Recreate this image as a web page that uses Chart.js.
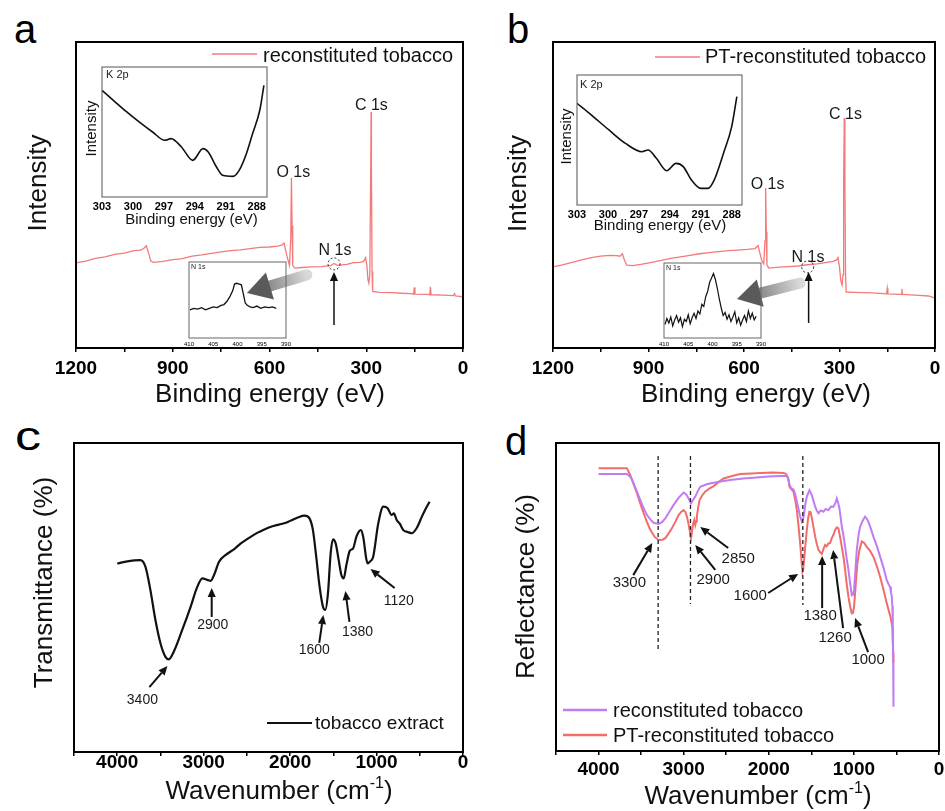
<!DOCTYPE html>
<html><head><meta charset="utf-8">
<script src="https://cdn.jsdelivr.net/npm/chart.js@4.4.1/dist/chart.umd.min.js"></script>
<style>
html,body{margin:0;padding:0;background:#fff}
body{width:945px;height:811px;position:relative;overflow:hidden;font-family:"Liberation Sans",Arial,sans-serif}
canvas{position:absolute}
.let{position:absolute;font-size:40px;line-height:40px;color:#000;font-family:"Liberation Sans",Arial,sans-serif}
</style></head>
<body>
<div class="let" style="left:14px;top:9px">a</div>
<div class="let" style="left:507px;top:9px">b</div>
<div class="let" style="left:15px;top:416px;transform-origin:0 0;transform:scaleX(1.3)">c</div>
<div class="let" style="left:505px;top:421px">d</div>
<script>
const FONT = '"Liberation Sans", Arial, Helvetica, sans-serif';

// ---------------- tick labels ----------------
const xpsTicks = [1200, 900, 600, 300, 0];
const xpsMinorTicks = [1050, 750, 450, 150];
const irTicks = [4000, 3000, 2000, 1000, 0];
const irMinorTicks = [4500, 3500, 2500, 1500, 500];
const k2pTicks = [303, 300, 297, 294, 291, 288];
const n1sTicks = [410, 405, 400, 395, 390];

// ---------------- panel a: XPS survey, reconstituted tobacco ----------------
const surveyA_BE = [1200,1170,1140,1110,1080,1050,1020,1000,990,982,975,968,960,930,900,870,840,810,780,750,720,690,660,630,600,575,562,555,548,542,538,534,532,530,528,522,500,470,440,410,400,390,360,340,320,308,302,298,295,292,289,286,285,284,282,280,260,220,190,160,153,151,149,110,103,101,99,60,30,26,24,10,0];
const surveyA_I  = [27.8,28.4,29.3,29.8,30.6,31.0,31.8,32.0,32.5,33.4,31.0,28.4,28.0,28.3,28.9,29.2,30.0,30.4,30.9,31.4,31.8,32.1,32.5,32.9,33.0,33.3,33.6,34.3,31.0,28.5,27.0,36.0,55.6,40.0,27.0,26.1,26.3,26.5,26.6,26.9,27.6,27.0,27.3,27.9,28.0,28.3,29.5,27.0,22.5,21.2,24.0,60.0,77.1,60.0,25.0,18.5,18.2,18.1,17.9,17.8,17.6,19.8,17.6,17.5,17.4,20.0,17.4,17.3,17.1,17.8,17.0,16.9,16.5];

// ---------------- panel b: XPS survey, PT-reconstituted tobacco ----------------
const surveyB_BE = [1200,1170,1140,1110,1080,1050,1020,1000,990,982,975,968,950,920,890,860,830,800,770,740,710,680,650,620,590,565,556,550,544,538,534,532,530,528,522,490,460,430,400,370,340,320,309,305,300,296,292,289,287,285,283,281,279,250,200,160,152,150,148,106,104,102,50,20,0];
const surveyB_I  = [26.5,27.2,28.0,28.8,29.5,30.0,30.3,30.2,30.0,30.8,28.5,27.1,26.9,27.4,28.0,28.6,29.3,29.8,30.3,30.8,31.2,31.5,31.8,32.0,32.2,32.5,33.5,31.0,28.5,27.5,35.0,52.3,38.0,27.2,26.1,26.4,26.6,26.8,27.2,27.5,28.0,28.3,28.8,29.6,26.5,22.0,20.6,24.0,55.0,75.2,55.0,24.0,18.3,18.2,18.0,17.8,17.7,19.5,17.7,17.5,19.3,17.5,17.2,17.0,16.3];

// ---------------- insets: K 2p ----------------
const k2pA_BE = [303,301.9,300.6,299.4,298.1,296.9,296.3,295.3,294.2,293.2,292.7,291.9,291.3,290.3,289.7,289.0,288.4,287.7,287.3];
const k2pA_I  = [82,74.4,65.4,57.7,50,43.6,44.9,38.5,28.2,37.2,34.6,23.1,16.7,15.9,20.5,33.3,48.7,66.7,85.9];
const k2pB_BE = [303,301.8,299.9,298.3,296.7,296.1,295.3,294.3,293.4,292.7,291.9,291.0,290.3,289.7,288.8,288.0,287.5];
const k2pB_I  = [78.2,70.5,57.7,47.4,41,42.3,35.9,26.4,32,29.5,19.2,12.8,12.8,19.2,39.7,60.3,83.3];

// ---------------- insets: N 1s ----------------
const n1sA_BE = [409.8,409,408.2,407.4,406.6,405.8,405,404.2,403.4,402.8,402.2,401.6,401,400.6,400.2,399.6,399.2,398.8,398.4,398,397.4,396.8,396,395.2,394.4,393.6,392.8,392];
const n1sA_I  = [37,39,38,40,37,39,41,40,43,44,48,54,62,71,72,71,70,58,46,43,41,40,42,39,41,40,41,39];
const n1sB_BE = [409.8,409.4,409,408.6,408.2,407.8,407.4,407,406.6,406.2,405.8,405.4,405,404.6,404.2,403.8,403.4,403,402.6,402.2,401.8,401.4,401,400.6,400.2,399.8,399.4,399,398.6,398.2,397.8,397.4,397,396.6,396.2,395.8,395.4,395,394.6,394.2,393.8,393.4,393,392.6,392.2,391.8,391.4,391];
const n1sB_I  = [18,26,20,28,16,24,30,21,27,15,25,22,31,19,27,33,26,36,32,45,42,55,62,74,80,86,78,66,52,40,30,34,25,31,22,28,35,20,27,17,24,30,22,36,26,33,24,29];

// ---------------- panel c: FTIR tobacco extract ----------------
const extractWN = [4000,3900,3800,3733,3674,3616,3558,3500,3442,3403,3345,3248,3151,3073,3015,2957,2919,2880,2822,2744,2650,2570,2470,2376,2300,2221,2130,2047,1970,1911,1834,1776,1736,1698,1659,1620,1593,1562,1531,1504,1473,1438,1407,1380,1349,1310,1271,1233,1182,1155,1116,1100,1078,1039,980,922,872,826,800,767,730,690,640,593,535,477,430,387];
const extractT  = [61,61.6,62,62.1,60,52.4,42.7,35.2,30.8,30,32.5,39.5,47,53.5,56.2,55.7,55.4,57.3,61.6,63.8,65.6,67.5,69.4,71,72,72.9,73.6,74.2,75.2,75.9,76.5,75.6,71.8,63.2,53.5,47,46,51.4,64.3,68.8,67.5,62.1,57.3,56.2,60.5,65.1,65.9,69.7,71.8,69.7,62.1,61.0,61.6,63.2,74,79.4,78.9,76.7,77.2,75.1,73.8,71.8,71.2,70.8,72.5,76.1,78.8,81];

// ---------------- panel d: reflectance ----------------
const reconWN = [4000,3800,3666,3620,3588,3550,3510,3470,3431,3390,3353,3294,3255,3216,3170,3118,3060,3001,2970,2942,2914,2890,2864,2835,2805,2730,2649,2550,2453,2300,2179,2000,1866,1788,1770,1757,1737,1710,1690,1670,1650,1631,1611,1598,1585,1570,1553,1522,1495,1475,1455,1435,1416,1390,1358,1330,1299,1270,1240,1220,1201,1185,1170,1155,1142,1120,1103,1085,1064,1045,1025,1010,998,985,966,945,927,900,869,850,829,800,771,730,692,650,614,590,575,565,555,548,543,538,535];
const reconR  = [89.9,89.9,89.9,88.8,86.9,84.3,81.5,78.8,76.6,75.1,74.1,73.7,74.3,75.5,77.6,79.9,82.2,83.9,83.3,82,80.4,81.5,82.6,84.3,85.8,86.6,87.1,87.6,88,88.5,88.7,89.1,89.3,89.3,88.5,86.5,85.3,84.9,83.4,80.9,78.5,76.1,74.4,75.2,77.2,80.2,82.6,84.7,83.1,81.2,79.3,78,77.2,78.1,77.7,78.6,78.2,79.4,79.3,80.3,82,80.5,78.8,75.8,72.8,69.5,66.3,62.5,58.8,54.6,50.6,50.8,52.3,57.5,65.3,70.2,72.8,74.6,76.1,75.5,74.4,72.1,69.6,66.5,63.1,59.3,55.5,54,53.3,51.6,50.1,47,41.4,28,14.4];
const ptWN = [4000,3800,3666,3627,3590,3549,3510,3470,3430,3392,3340,3294,3250,3216,3180,3138,3100,3059,3030,3001,2980,2962,2945,2931,2914,2905,2895,2885,2875,2864,2855,2845,2830,2813,2780,2747,2700,2649,2590,2531,2430,2336,2200,2101,1950,1827,1800,1780,1765,1757,1735,1710,1690,1670,1650,1631,1615,1604,1595,1585,1570,1553,1538,1522,1510,1497,1480,1455,1435,1416,1395,1377,1357,1338,1320,1299,1280,1260,1240,1221,1200,1182,1162,1142,1120,1103,1085,1064,1045,1025,1010,998,980,959,935,908,880,849,810,771,730,692,650,614,590,570,555,548,543,538,535];
const ptR  = [91.8,91.8,91.8,89.6,86.8,83.7,80.4,77.2,74.2,71.8,69.5,68.5,68.6,69.1,70.5,72.3,74.3,76.6,77.6,78.2,77.6,76.1,74,71.8,69.1,70.6,72.8,74.2,75,73.4,74.5,76.1,79,81.5,83.1,84.2,85.2,86,87.3,88.5,89.3,89.9,90.1,90.3,90.4,90.3,90,89.1,87.5,85.8,85,84.2,81.6,78.2,72.9,67.4,61.5,58.2,59,62,66.8,71.8,75.5,77.7,77.6,76.1,73.5,69.6,67.1,65.3,64.5,64,65.6,66.9,66.4,67.4,67.5,69.1,70.2,71.8,72.6,72.3,69.5,66.3,62.6,58.8,54.3,50.1,47,44.7,44.9,46.8,53.5,60.9,65.3,68,67.6,66.3,65,63.1,60,56.6,52.1,48,45.5,43.5,41.4,40,35,32,28.5];

const RED = '#f47a7a', RED_D = '#f26c6c', PURPLE = '#c07cf2';
const pts = (xs, ys) => xs.map((x, i) => ({x, y: ys[i]}));

// ---------------- annotation / frame plugin ----------------
const ANN = {};
function drawArrow(ctx, x1, y1, x2, y2, lw, head, color) {
  const ang = Math.atan2(y2 - y1, x2 - x1);
  const bx = x2 - head * Math.cos(ang), by = y2 - head * Math.sin(ang);
  ctx.strokeStyle = color; ctx.fillStyle = color; ctx.lineWidth = lw;
  ctx.beginPath(); ctx.moveTo(x1, y1); ctx.lineTo(bx, by); ctx.stroke();
  const hw = head * 0.45;
  ctx.beginPath();
  ctx.moveTo(x2, y2);
  ctx.lineTo(bx + hw * Math.sin(ang), by - hw * Math.cos(ang));
  ctx.lineTo(bx - hw * Math.sin(ang), by + hw * Math.cos(ang));
  ctx.closePath(); ctx.fill();
}
const annoPlugin = {
  id: 'annoFrame',
  afterDraw(chart) {
    const a = ANN[chart.canvas.id]; if (!a) return;
    const ctx = chart.ctx, ca = chart.chartArea;
    const sx = chart.scales.x, sy = chart.scales.y;
    const px = v => sx.getPixelForValue(v), py = v => sy.getPixelForValue(v);
    const cx = (ca.left + ca.right) / 2, cy = (ca.top + ca.bottom) / 2;
    ctx.save();
    for (const it of a.items || []) {
      ctx.save();
      if (it.t === 'text') {
        ctx.font = (it.weight || 'normal') + ' ' + it.size + 'px ' + FONT;
        ctx.fillStyle = it.color || '#1a1a1a';
        ctx.textAlign = it.align || 'center';
        ctx.textBaseline = it.base || 'alphabetic';
        ctx.fillText(it.text, px(it.x), py(it.y));
      } else if (it.t === 'ptext') {
        ctx.font = it.size + 'px ' + FONT; ctx.fillStyle = '#222';
        ctx.textAlign = 'left'; ctx.textBaseline = 'alphabetic';
        ctx.fillText(it.text, ca.left + it.dx, ca.top + it.dy);
      } else if (it.t === 'arrow') {
        drawArrow(ctx, px(it.x1), py(it.y1), px(it.x2), py(it.y2), it.w || 2, it.head || 9, it.color || '#111');
      } else if (it.t === 'dashv') {
        ctx.strokeStyle = '#222'; ctx.lineWidth = 1.3; ctx.setLineDash([4, 3]);
        ctx.beginPath(); ctx.moveTo(px(it.x), py(it.y1)); ctx.lineTo(px(it.x), py(it.y2)); ctx.stroke();
      } else if (it.t === 'circle') {
        ctx.strokeStyle = '#222'; ctx.lineWidth = 1; ctx.setLineDash([2, 2]);
        ctx.beginPath(); ctx.arc(px(it.x), py(it.y), it.r, 0, Math.PI * 2); ctx.stroke();
      } else if (it.t === 'gray') {
        const x1 = px(it.x1), y1 = py(it.y1), x2 = px(it.x2), y2 = py(it.y2);
        const ang = Math.atan2(y2 - y1, x2 - x1), head = 24, hw = 14;
        const bx = x2 - head * Math.cos(ang), by = y2 - head * Math.sin(ang);
        const g = ctx.createLinearGradient(x1, y1, x2, y2);
        g.addColorStop(0, '#d9d9d9'); g.addColorStop(1, '#5c5c5c');
        ctx.strokeStyle = g; ctx.lineWidth = 11; ctx.lineCap = 'round';
        ctx.beginPath(); ctx.moveTo(x1, y1); ctx.lineTo(bx, by); ctx.stroke();
        ctx.fillStyle = '#5a5a5a';
        ctx.beginPath(); ctx.moveTo(x2, y2);
        ctx.lineTo(bx + hw * Math.sin(ang), by - hw * Math.cos(ang));
        ctx.lineTo(bx - hw * Math.sin(ang), by + hw * Math.cos(ang));
        ctx.closePath(); ctx.fill();
      } else if (it.t === 'legend') {
        ctx.strokeStyle = it.color; ctx.lineWidth = it.lw;
        ctx.beginPath(); ctx.moveTo(ca.left + it.dx1, ca.top + it.dy); ctx.lineTo(ca.left + it.dx2, ca.top + it.dy); ctx.stroke();
        ctx.font = it.size + 'px ' + FONT; ctx.fillStyle = '#111';
        ctx.textAlign = 'left'; ctx.textBaseline = 'alphabetic';
        ctx.fillText(it.text, ca.left + it.tdx, ca.top + it.tdy);
      } else if (it.t === 'xtitle') {
        ctx.fillStyle = '#111'; ctx.textBaseline = 'alphabetic'; ctx.textAlign = 'left';
        const supSize = Math.round(it.size * 0.6);
        let total = 0;
        for (const [s, sup] of it.parts) { ctx.font = (sup ? supSize : it.size) + 'px ' + FONT; total += ctx.measureText(s).width; }
        let x = cx + it.dx - total / 2; const y = ca.bottom + it.dy;
        for (const [s, sup] of it.parts) {
          ctx.font = (sup ? supSize : it.size) + 'px ' + FONT;
          ctx.fillText(s, x, sup ? y - it.size * 0.42 : y);
          x += ctx.measureText(s).width;
        }
      } else if (it.t === 'ytitle') {
        ctx.fillStyle = '#111'; ctx.font = it.size + 'px ' + FONT;
        ctx.textAlign = 'center'; ctx.textBaseline = 'alphabetic';
        ctx.translate(ca.left + it.dx, cy + it.dy); ctx.rotate(-Math.PI / 2);
        ctx.fillText(it.text, 0, 0);
      }
      ctx.restore();
    }
    ctx.strokeStyle = a.frameColor || '#000'; ctx.lineWidth = a.frameWidth || 2;
    ctx.strokeRect(ca.left, ca.top, ca.right - ca.left, ca.bottom - ca.top);
    ctx.restore();
  }
};
Chart.register(annoPlugin);

function makeChart(id, left, top, w, h, area, spec) {
  const cv = document.createElement('canvas');
  cv.id = id; cv.width = w; cv.height = h;
  cv.style.left = left + 'px'; cv.style.top = top + 'px';
  cv.style.width = w + 'px'; cv.style.height = h + 'px';
  document.body.appendChild(cv);
  ANN[id] = spec.anno;
  const major = spec.major, minor = spec.minor || [];
  const all = major.concat(minor).sort((p, q) => p - q);
  return new Chart(cv, {
    type: 'line',
    data: { datasets: spec.datasets.map(d => Object.assign({
      pointRadius: 0, fill: false, borderWidth: 1.5, tension: 0, spanGaps: true
    }, d)) },
    options: {
      responsive: false, animation: false, devicePixelRatio: 1,
      layout: { padding: { left: area.l - left, top: area.t - top, right: left + w - area.r, bottom: 0 } },
      plugins: { legend: { display: false }, tooltip: { enabled: false } },
      scales: {
        x: {
          type: 'linear', reverse: true, min: spec.xmin, max: spec.xmax,
          afterBuildTicks: s => { s.ticks = all.map(v => ({ value: v })); },
          afterFit: s => { s.height = top + h - area.b; },
          ticks: {
            autoSkip: false, maxRotation: 0, minRotation: 0, padding: spec.tickPad, color: '#000',
            font: { family: FONT, size: spec.tickSize, weight: spec.tickBold ? 'bold' : 'normal', lineHeight: 1 },
            callback: v => major.includes(v) ? String(v) : ''
          },
          grid: { display: true, drawOnChartArea: false, drawTicks: spec.tickLen > 0, tickLength: spec.tickLen || 0,
                  color: '#000', tickColor: '#000', lineWidth: 1.5 },
          border: { display: false },
          title: { display: false }
        },
        y: { type: 'linear', display: false, min: 0, max: 100 }
      }
    }
  });
}

// ---------------- panel a ----------------
makeChart('chartA', 0, 0, 470, 410, { l: 76, t: 42, r: 463, b: 348 }, {
  xmin: 0, xmax: 1200, major: xpsTicks, minor: xpsMinorTicks, tickPad: 7, tickSize: 19, tickBold: true, tickLen: 4,
  datasets: [{ label: 'reconstituted tobacco', data: pts(surveyA_BE, surveyA_I), borderColor: RED, borderWidth: 1.3 }],
  anno: { items: [
    { t: 'legend', dx1: 136, dx2: 181, dy: 12, tdx: 187, tdy: 20, text: 'reconstituted tobacco', color: RED, lw: 1.5, size: 20 },
    { t: 'text', x: 526, y: 55.8, text: 'O 1s', size: 16 },
    { t: 'text', x: 284, y: 77.8, text: 'C 1s', size: 16 },
    { t: 'text', x: 397, y: 30.4, text: 'N 1s', size: 16 },
    { t: 'circle', x: 400, y: 27.5, r: 6 },
    { t: 'arrow', x1: 400, y1: 7.5, x2: 400, y2: 24.8, w: 1.5, head: 9 },
    { t: 'gray', x1: 484, y1: 23.9, x2: 670, y2: 18 },
    { t: 'xtitle', parts: [['Binding energy (eV)', false]], dx: 0.5, dy: 53.7, size: 26 },
    { t: 'ytitle', text: 'Intensity', dx: -30.4, dy: -12, size: 26 }
  ] }
});
// inset K 2p (a)
makeChart('insetKA', 78, 58, 194, 178, { l: 102, t: 67, r: 267, b: 197 }, {
  xmin: 287, xmax: 303, major: k2pTicks, tickPad: 4, tickSize: 11, tickBold: true, tickLen: 0,
  datasets: [{ data: pts(k2pA_BE, k2pA_I), borderColor: '#111', borderWidth: 1.6, cubicInterpolationMode: 'monotone' }],
  anno: { frameColor: '#555', frameWidth: 1, items: [
    { t: 'ptext', dx: 4, dy: 11, text: 'K 2p', size: 11 },
    { t: 'xtitle', parts: [['Binding energy (eV)', false]], dx: 7, dy: 27, size: 15 },
    { t: 'ytitle', text: 'Intensity', dx: -6.5, dy: -3.5, size: 15 }
  ] }
});
// inset N 1s (a)
makeChart('insetNA', 183, 256, 109, 95, { l: 189, t: 262, r: 286, b: 338 }, {
  xmin: 390, xmax: 410, major: n1sTicks, tickPad: 3, tickSize: 6, tickBold: false, tickLen: 0,
  datasets: [{ data: pts(n1sA_BE, n1sA_I), borderColor: '#111', borderWidth: 1.3 }],
  anno: { frameColor: '#666', frameWidth: 1, items: [
    { t: 'ptext', dx: 2, dy: 7, text: 'N 1s', size: 7 }
  ] }
});

// ---------------- panel b ----------------
makeChart('chartB', 470, 0, 475, 410, { l: 553, t: 42, r: 935, b: 348 }, {
  xmin: 0, xmax: 1200, major: xpsTicks, minor: xpsMinorTicks, tickPad: 7, tickSize: 19, tickBold: true, tickLen: 4,
  datasets: [{ label: 'PT-reconstituted tobacco', data: pts(surveyB_BE, surveyB_I), borderColor: RED, borderWidth: 1.3 }],
  anno: { items: [
    { t: 'legend', dx1: 102, dx2: 147, dy: 15, tdx: 152, tdy: 21.3, text: 'PT-reconstituted tobacco', color: RED, lw: 1.5, size: 20 },
    { t: 'text', x: 526, y: 52, text: 'O 1s', size: 16 },
    { t: 'text', x: 281, y: 74.8, text: 'C 1s', size: 16 },
    { t: 'text', x: 399, y: 28.2, text: 'N 1s', size: 16 },
    { t: 'circle', x: 400, y: 26.5, r: 6 },
    { t: 'arrow', x1: 397, y1: 8.2, x2: 397, y2: 24.8, w: 1.5, head: 9 },
    { t: 'gray', x1: 424, y1: 21.2, x2: 622, y2: 16 },
    { t: 'xtitle', parts: [['Binding energy (eV)', false]], dx: 12, dy: 53.7, size: 26 },
    { t: 'ytitle', text: 'Intensity', dx: -27.4, dy: -11.5, size: 26 }
  ] }
});
// inset K 2p (b)
makeChart('insetKB', 555, 66, 192, 178, { l: 577, t: 75, r: 742, b: 205 }, {
  xmin: 287, xmax: 303, major: k2pTicks, tickPad: 4, tickSize: 11, tickBold: true, tickLen: 0,
  datasets: [{ data: pts(k2pB_BE, k2pB_I), borderColor: '#111', borderWidth: 1.6, cubicInterpolationMode: 'monotone' }],
  anno: { frameColor: '#555', frameWidth: 1, items: [
    { t: 'ptext', dx: 3, dy: 13, text: 'K 2p', size: 11 },
    { t: 'xtitle', parts: [['Binding energy (eV)', false]], dx: 0.5, dy: 24.5, size: 15 },
    { t: 'ytitle', text: 'Intensity', dx: -6, dy: -3.5, size: 15 }
  ] }
});
// inset N 1s (b)
makeChart('insetNB', 658, 257, 109, 94, { l: 664, t: 263, r: 761, b: 338 }, {
  xmin: 390, xmax: 410, major: n1sTicks, tickPad: 3, tickSize: 6, tickBold: false, tickLen: 0,
  datasets: [{ data: pts(n1sB_BE, n1sB_I), borderColor: '#111', borderWidth: 1.2 }],
  anno: { frameColor: '#666', frameWidth: 1, items: [
    { t: 'ptext', dx: 2, dy: 7, text: 'N 1s', size: 7 }
  ] }
});

// ---------------- panel c ----------------
makeChart('chartC', 0, 410, 470, 401, { l: 74, t: 443, r: 463, b: 752 }, {
  xmin: 0, xmax: 4500, major: irTicks, minor: irMinorTicks, tickPad: -2.5, tickSize: 19, tickBold: true, tickLen: 4,
  datasets: [{ label: 'tobacco extract', data: pts(extractWN, extractT), borderColor: '#111', borderWidth: 2.2, cubicInterpolationMode: 'monotone' }],
  anno: { items: [
    { t: 'legend', dx1: 193, dx2: 238, dy: 280, tdx: 241, tdy: 286.3, text: 'tobacco extract', color: '#111', lw: 2, size: 19 },
    { t: 'text', x: 3709, y: 16.8, text: '3400', size: 14, base: 'middle' },
    { t: 'arrow', x1: 3628, y1: 21, x2: 3419, y2: 27.8 },
    { t: 'text', x: 2895, y: 41.1, text: '2900', size: 14, base: 'middle' },
    { t: 'arrow', x1: 2907, y1: 43.7, x2: 2907, y2: 53.1 },
    { t: 'text', x: 1721, y: 33, text: '1600', size: 14, base: 'middle' },
    { t: 'arrow', x1: 1663, y1: 35.3, x2: 1616, y2: 44.3 },
    { t: 'text', x: 1221, y: 38.8, text: '1380', size: 14, base: 'middle' },
    { t: 'arrow', x1: 1314, y1: 42.1, x2: 1360, y2: 52.1 },
    { t: 'text', x: 744, y: 48.9, text: '1120', size: 14, base: 'middle' },
    { t: 'arrow', x1: 791, y1: 53.1, x2: 1070, y2: 59.2 },
    { t: 'xtitle', parts: [['Wavenumber (cm', false], ['-1', true], [')', false]], dx: 10.5, dy: 47, size: 26 },
    { t: 'ytitle', text: 'Transmittance (%)', dx: -22.4, dy: -15, size: 26 }
  ] }
});

// ---------------- panel d ----------------
makeChart('chartD', 470, 410, 475, 401, { l: 556, t: 443, r: 939, b: 751 }, {
  xmin: 0, xmax: 4500, major: irTicks, minor: irMinorTicks, tickPad: 5, tickSize: 19, tickBold: true, tickLen: 4,
  datasets: [
    { label: 'reconstituted tobacco', data: pts(reconWN, reconR), borderColor: PURPLE, borderWidth: 2 },
    { label: 'PT-reconstituted tobacco', data: pts(ptWN, ptR), borderColor: RED_D, borderWidth: 2 }
  ],
  anno: { items: [
    { t: 'dashv', x: 3300, y1: 95.8, y2: 33.1 },
    { t: 'dashv', x: 2920, y1: 95.8, y2: 47.7 },
    { t: 'dashv', x: 1600, y1: 95.8, y2: 47.4 },
    { t: 'text', x: 3638, y: 54.5, text: '3300', size: 15, base: 'middle' },
    { t: 'arrow', x1: 3592, y1: 57.1, x2: 3369, y2: 67.5 },
    { t: 'text', x: 2653, y: 55.5, text: '2900', size: 15, base: 'middle' },
    { t: 'arrow', x1: 2629, y1: 58.8, x2: 2864, y2: 66.9 },
    { t: 'text', x: 2359, y: 62.3, text: '2850', size: 15, base: 'middle' },
    { t: 'arrow', x1: 2477, y1: 65.9, x2: 2805, y2: 72.7 },
    { t: 'text', x: 2218, y: 50.3, text: '1600', size: 15, base: 'middle' },
    { t: 'arrow', x1: 2007, y1: 51.3, x2: 1655, y2: 57.5 },
    { t: 'text', x: 1397, y: 43.8, text: '1380', size: 15, base: 'middle' },
    { t: 'arrow', x1: 1373, y1: 46.4, x2: 1373, y2: 63.3 },
    { t: 'text', x: 1221, y: 36.7, text: '1260', size: 15, base: 'middle' },
    { t: 'arrow', x1: 1127, y1: 39.9, x2: 1244, y2: 65.3 },
    { t: 'text', x: 833, y: 29.5, text: '1000', size: 15, base: 'middle' },
    { t: 'arrow', x1: 833, y1: 32.1, x2: 986, y2: 43.2 },
    { t: 'legend', dx1: 7, dx2: 51, dy: 267, tdx: 57, tdy: 273.7, text: 'reconstituted tobacco', color: PURPLE, lw: 2.5, size: 20 },
    { t: 'legend', dx1: 7, dx2: 51, dy: 292, tdx: 57, tdy: 298.7, text: 'PT-reconstituted tobacco', color: RED_D, lw: 2.5, size: 20 },
    { t: 'xtitle', parts: [['Wavenumber (cm', false], ['-1', true], [')', false]], dx: 10.5, dy: 53, size: 26 },
    { t: 'ytitle', text: 'Reflectance (%)', dx: -22.4, dy: -10.5, size: 26 }
  ] }
});
</script>
</body></html>
